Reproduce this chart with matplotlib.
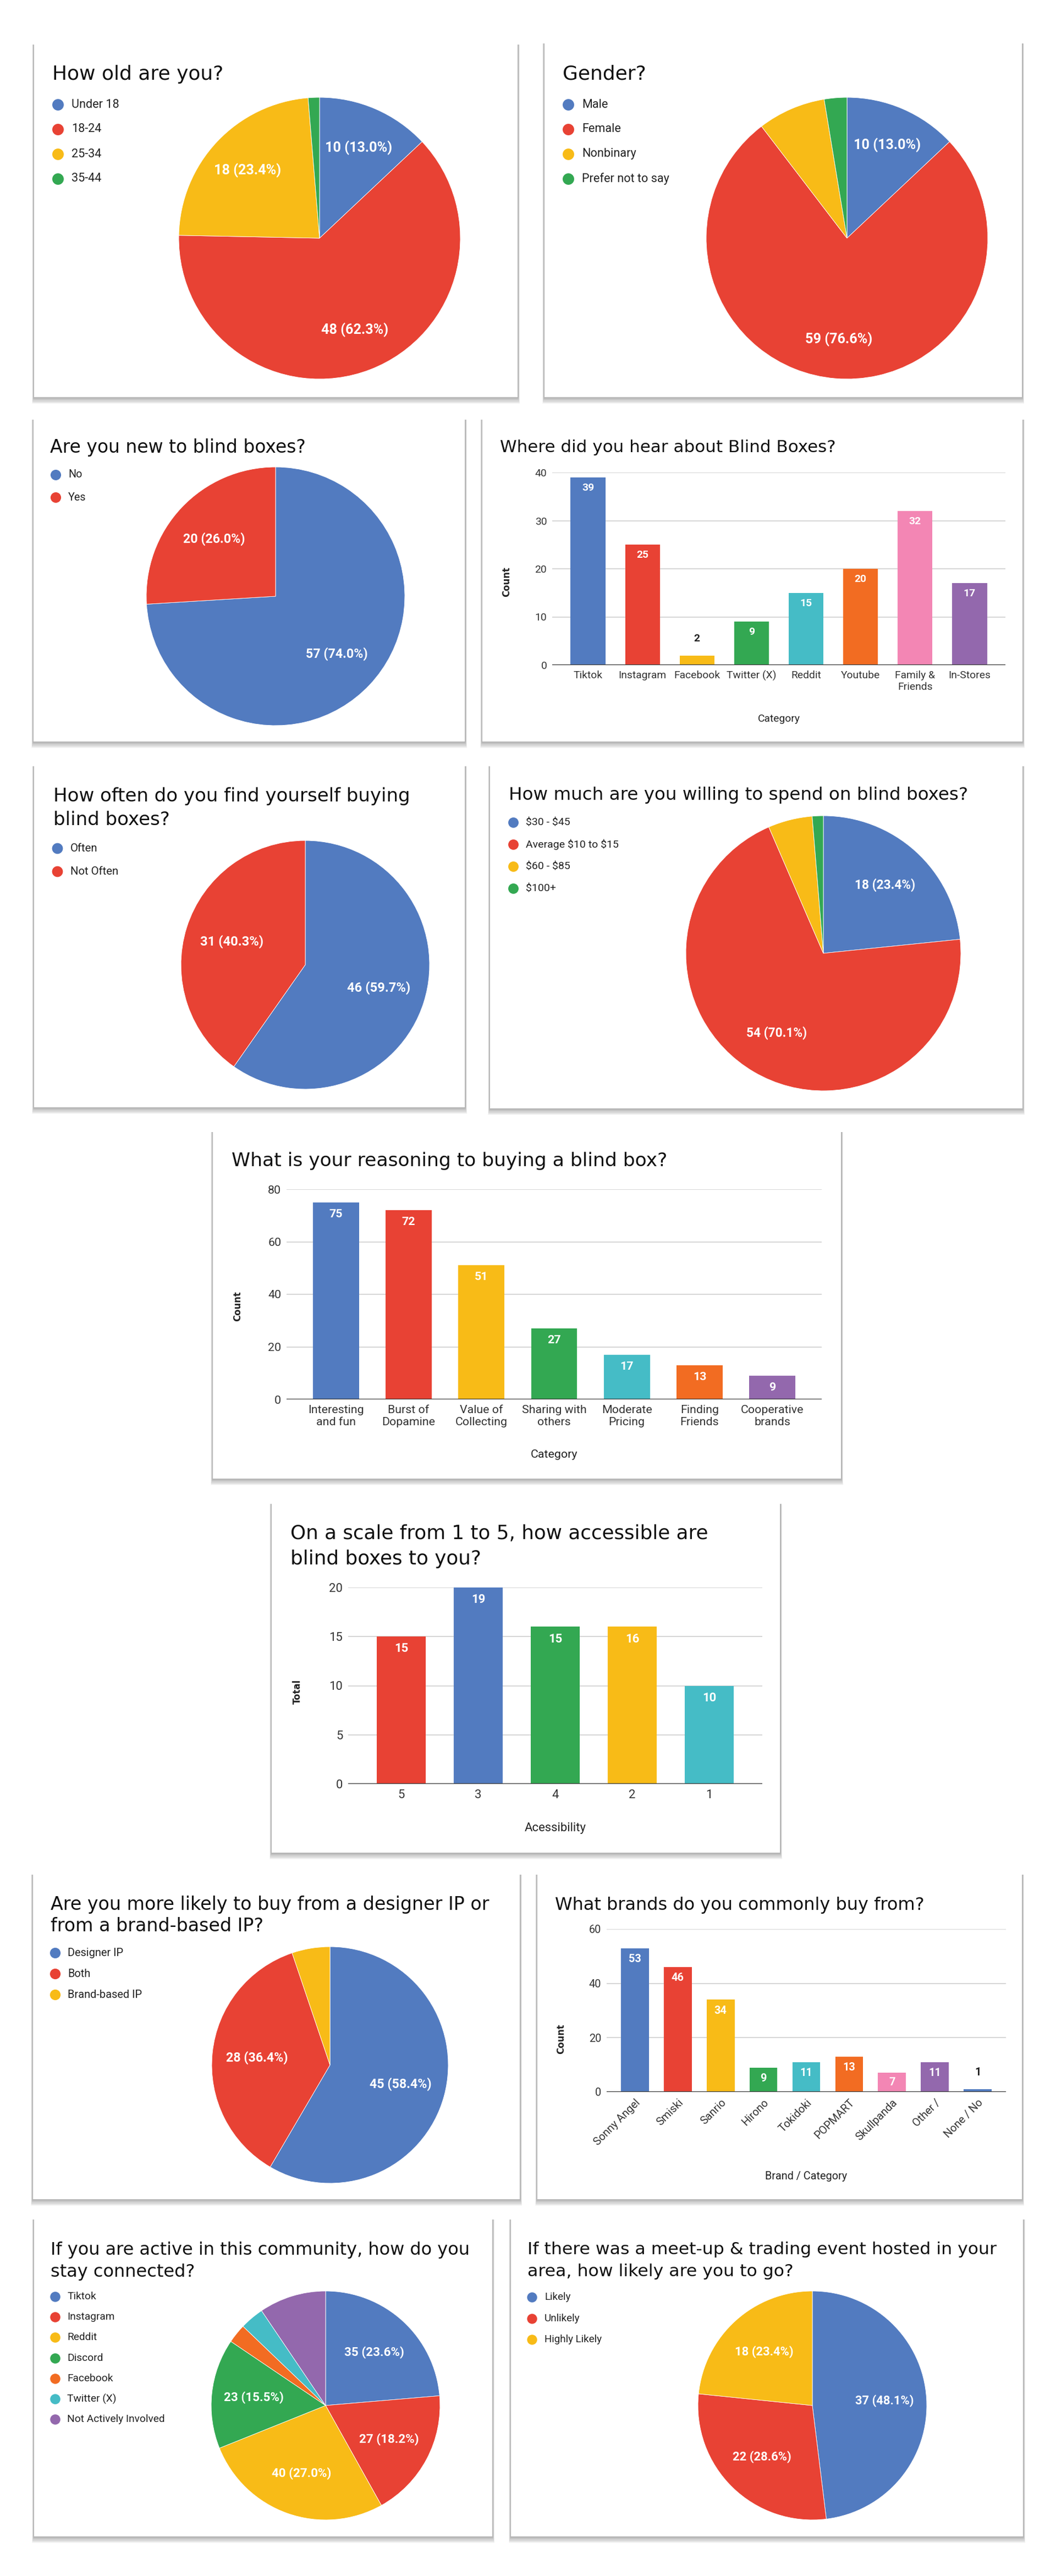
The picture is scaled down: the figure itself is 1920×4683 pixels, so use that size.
import matplotlib
matplotlib.use('Agg')
import matplotlib.pyplot as plt
from matplotlib.patches import Rectangle
import numpy as np

W, H = 1920, 4683
DPI = 100
PX = 72.0 / DPI

plt.rcParams['font.family'] = ['Roboto', 'DejaVu Sans']

BLUE = '#527bc0'; RED = '#e84234'; YELLOW = '#f8bb17'; GREEN = '#33a852'
TEAL = '#45bcc6'; ORANGE = '#f26c22'; PINK = '#f386b4'; PURPLE = '#9368ad'

# ---------------- data ----------------
age_labels = ['Under 18', '18-24', '25-34', '35-44']
age_values = [10, 48, 18, 1]

gender_labels = ['Male', 'Female', 'Nonbinary', 'Prefer not to say']
gender_values = [10, 59, 6, 2]

new_labels = ['No', 'Yes']
new_values = [57, 20]

heard_cats = ['Tiktok', 'Instagram', 'Facebook', 'Twitter (X)', 'Reddit', 'Youtube',
              'Family &\nFriends', 'In-Stores']
heard_values = [39, 25, 2, 9, 15, 20, 32, 17]

often_labels = ['Often', 'Not Often']
often_values = [46, 31]

spend_labels = ['$30 - $45', 'Average $10 to $15', '$60 - $85', '$100+']
spend_values = [18, 54, 4, 1]

reason_cats = ['Interesting\nand fun', 'Burst of\nDopamine', 'Value of\nCollecting',
               'Sharing with\nothers', 'Moderate\nPricing', 'Finding\nFriends', 'Cooperative\nbrands']
reason_values = [75, 72, 51, 27, 17, 13, 9]

access_cats = ['5', '3', '4', '2', '1']
access_heights = [15, 20, 16, 16, 10]
access_labels = ['15', '19', '15', '16', '10']

ip_labels = ['Designer IP', 'Both', 'Brand-based IP']
ip_values = [45, 28, 4]

brand_cats = ['Sonny Angel', 'Smiski', 'Sanrio', 'Hirono', 'Tokidoki', 'POPMART',
              'Skullpanda', 'Other /', 'None / No']
brand_values = [53, 46, 34, 9, 11, 13, 7, 11, 1]

connect_labels = ['Tiktok', 'Instagram', 'Reddit', 'Discord', 'Facebook', 'Twitter (X)',
                  'Not Actively Involved']
connect_values = [35, 27, 40, 23, 4, 5, 14]

meet_labels = ['Likely', 'Unlikely', 'Highly Likely']
meet_values = [37, 22, 18]

PIE_COLORS = [BLUE, RED, YELLOW, GREEN, ORANGE, TEAL, PURPLE]

# ---------------- figure ----------------
fig = plt.figure(figsize=(W / DPI, H / DPI), dpi=DPI)
fig.patch.set_facecolor('white')
bg = fig.add_axes([0, 0, 1, 1], zorder=0)
bg.set_xlim(0, W); bg.set_ylim(H, 0); bg.axis('off')
bg.set_autoscale_on(False)


def px_axes(x0, y0, x1, y1, z=2):
    ax = fig.add_axes([x0 / W, 1 - y1 / H, (x1 - x0) / W, (y1 - y0) / H], zorder=z)
    ax.set_facecolor('none')
    return ax


def panel(x0, y0, x1, y1):
    for i in range(10):
        bg.add_patch(Rectangle((x0 - 1.5 - i * 0.25, y0 + 1), (x1 - x0) + 3 + i * 0.5,
                               (y1 - y0) + 1 + i * 1.1, facecolor='black', alpha=0.03, lw=0))
    bg.add_patch(Rectangle((x0, y0), x1 - x0, y1 - y0, facecolor='white', lw=0))


def title(lines, x, yc, T, spacing=0):
    for i, line in enumerate(lines):
        bg.text(x, yc + i * spacing + 0.36 * T, line, fontsize=T * PX, family='DejaVu Sans',
                color='#111111', ha='left', va='baseline')


def legend(labels, colors, xd, xl, y0, dy, T):
    for i, (lab, c) in enumerate(zip(labels, colors)):
        y = y0 + i * dy
        bg.plot([xd], [y], 'o', ms=0.58 * T * PX, color=c, mec='none')
        bg.text(xl, y, lab, fontsize=0.6 * T * PX, color='#222222', ha='left', va='center',
                parse_math=False)


def pie(values, colors, cx, cy, R, T, lr=0.65):
    ax = px_axes(cx - R, cy - R, cx + R, cy + R)
    ax.pie(values, colors=colors, startangle=90, counterclock=False, radius=1,
           wedgeprops=dict(edgecolor='white', linewidth=0.6))
    ax.set_xlim(-1.0, 1.0); ax.set_ylim(-1.0, 1.0); ax.set_aspect('equal'); ax.axis('off')
    total = float(sum(values))
    cum = 0.0
    for v in values:
        frac = v / total
        mid = cum + frac / 2
        cum += frac
        if frac >= 0.10:
            ang = np.pi / 2 - 2 * np.pi * mid
            ax.text(lr * np.cos(ang), lr * np.sin(ang), f'{v} ({frac * 100:.1f}%)',
                    fontsize=0.7 * T * PX, fontweight='bold', color='white',
                    ha='center', va='center')


def bars(rect, cats, heights, labels, colors, ymax, yticks, xpad, width, T, rot=False):
    x0, y0, x1, y1 = rect
    ax = px_axes(x0, y0, x1, y1)
    n = len(cats)
    xs = np.arange(n)
    ax.bar(xs, heights, width=width, color=colors, zorder=2)
    ax.set_xlim(-xpad, n - 1 + xpad)
    ax.set_ylim(0, ymax)
    ax.set_yticks(yticks)
    ax.yaxis.grid(True, color='#cccccc', lw=1.1, zorder=0)
    ax.set_axisbelow(True)
    ax.axhline(0, color='#333333', lw=1.7, zorder=3)
    for s in ax.spines.values():
        s.set_visible(False)
    fs = 0.62 * T
    ax.tick_params(axis='both', length=0, labelsize=fs * PX, labelcolor='#333333')
    ax.tick_params(axis='y', pad=7)
    ax.tick_params(axis='x', pad=7)
    ax.set_xticks(xs)
    if rot:
        ax.set_xticklabels(cats, rotation=45, ha='right', rotation_mode='anchor')
    else:
        ax.set_xticklabels(cats)
    ppu = (y1 - y0) / ymax
    for xi, h, lab in zip(xs, heights, labels):
        hp = h * ppu
        if hp < 30:
            ax.annotate(lab, (xi, h), xytext=(0, 31 * PX), textcoords='offset points',
                        ha='center', va='center', fontsize=fs * PX, fontweight='bold',
                        color='#222222', zorder=4)
        else:
            off = min(0.62 * T, hp / 2)
            ax.annotate(lab, (xi, h), xytext=(0, -off * PX), textcoords='offset points',
                        ha='center', va='center', fontsize=fs * PX, fontweight='bold',
                        color='white', zorder=4)
    return ax


def ylab(x, y, s):
    bg.text(x, y, s, rotation=90, fontsize=16.5 * PX, family='DejaVu Sans', fontweight='bold',
            color='#222222', ha='center', va='center')


def xlab(x, y, s, T):
    bg.text(x, y, s, fontsize=0.62 * T * PX, color='#222222', ha='center', va='center')


# ---------------- panels ----------------
rects = [(62, 80, 941, 722), (990, 78, 1858, 722),
         (61, 762, 845, 1348), (877, 762, 1859, 1348),
         (62, 1392, 845, 2013), (891, 1392, 1859, 2015),
         (387, 2057, 1529, 2688),
         (494, 2733, 1418, 3368),
         (60, 3407, 945, 3998), (977, 3407, 1858, 3998),
         (62, 4034, 895, 4611), (929, 4034, 1860, 4611)]
for r in rects:
    panel(*r)

# 1 age
T = 36
title(['How old are you?'], 95, 132, T)
legend(age_labels, PIE_COLORS, 105, 130, 190, 45, T)
pie(age_values, PIE_COLORS, 581, 433, 256, T, lr=0.7)

# 2 gender
T = 36
title(['Gender?'], 1023, 132, T)
legend(gender_labels, PIE_COLORS, 1033, 1058, 190, 45, T)
pie(gender_values, PIE_COLORS, 1540, 433, 256, T, lr=0.72)

# 3 new
T = 33
title(['Are you new to blind boxes?'], 91, 811, T)
legend(new_labels, PIE_COLORS, 101, 124, 863, 41, T)
pie(new_values, PIE_COLORS, 501, 1084, 235, T)

# 4 heard
T = 31
title(['Where did you hear about Blind Boxes?'], 909, 811, T)
bars((1004, 859, 1828, 1209), heard_cats, heard_values, [str(v) for v in heard_values],
     [BLUE, RED, YELLOW, GREEN, TEAL, ORANGE, PINK, PURPLE], 40, [0, 10, 20, 30, 40],
     0.657, 0.64, T)
ylab(921, 1058, 'Count')
xlab(1416, 1307, 'Category', T)

# 5 often
T = 34
title(['How often do you find yourself buying', 'blind boxes?'], 97, 1445, T, 43)
legend(often_labels, PIE_COLORS, 104, 128, 1542, 42, T)
pie(often_values, PIE_COLORS, 555, 1754, 226, T, lr=0.62)

# 6 spend
T = 32.5
title(['How much are you willing to spend on blind boxes?'], 925, 1442, T)
legend(spend_labels, PIE_COLORS, 933, 956, 1495, 40, T)
pie(spend_values, PIE_COLORS, 1497, 1733, 250, T, lr=0.67)

# 7 reasoning
T = 34.5
title(['What is your reasoning to buying a blind box?'], 421, 2108, T)
bars((521, 2162, 1494, 2544), reason_cats, reason_values, [str(v) for v in reason_values],
     [BLUE, RED, YELLOW, GREEN, TEAL, ORANGE, PURPLE], 80, [0, 20, 40, 60, 80],
     0.68, 0.635, T)
ylab(432, 2375, 'Count')
xlab(1008, 2644, 'Category', T)

# 8 accessibility
T = 35.7
title(['On a scale from 1 to 5, how accessible are', 'blind boxes to you?'], 528, 2785, T, 46)
bars((633, 2886, 1386, 3243), access_cats, access_heights, access_labels,
     [RED, BLUE, GREEN, YELLOW, TEAL], 20, [0, 5, 10, 15, 20], 0.69, 0.64, T)
ylab(541, 3075, 'Total')
xlab(1010, 3323, 'Acessibility', T)

# 9 designer IP
T = 33.3
title(['Are you more likely to buy from a designer IP or', 'from a brand-based IP?'], 92, 3460, T, 39.5)
legend(ip_labels, PIE_COLORS, 100, 123, 3550, 38, T)
pie(ip_values, PIE_COLORS, 600, 3754, 215, T, lr=0.62)

# 10 brands
T = 32
title(['What brands do you commonly buy from?'], 1009, 3460, T)
bars((1103, 3507, 1829, 3803), brand_cats, brand_values, [str(v) for v in brand_values],
     [BLUE, RED, YELLOW, GREEN, TEAL, ORANGE, PINK, PURPLE, BLUE], 60, [0, 20, 40, 60],
     0.66, 0.65, T, rot=True)
ylab(1020, 3707, 'Count')
xlab(1466, 3957, 'Brand / Category', T)

# 11 connected
T = 32
title(['If you are active in this community, how do you', 'stay connected?'], 92, 4087, T, 40)
legend(connect_labels, PIE_COLORS, 100, 122, 4175, 37.2, T)
pie(connect_values, PIE_COLORS, 592, 4373, 208, T, lr=0.63)

# 12 meet-up
T = 31.5
title(['If there was a meet-up & trading event hosted in your',
       'area, how likely are you to go?'], 959, 4087, T, 40)
legend(meet_labels, PIE_COLORS, 967, 990, 4176, 38.5, T)
pie(meet_values, PIE_COLORS, 1477, 4373, 208, T, lr=0.63)

fig.savefig('out.png', dpi=DPI, facecolor='white')
